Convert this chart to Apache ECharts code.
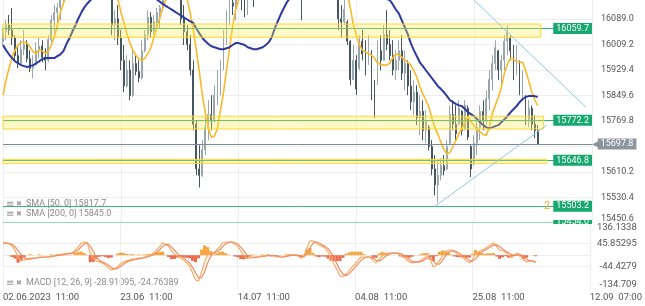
<!DOCTYPE html>
<html><head><meta charset="utf-8">
<script src="https://cdn.jsdelivr.net/npm/echarts@6/dist/echarts.min.js"></script>
<style>html,body{margin:0;padding:0;background:#fff}#c{width:645px;height:306px}</style>
</head><body><div id="c"></div>
<script>
// ---------- DATA ----------
const slotCount = 196; // time slots (3 h each), last ones empty (future space)
const tickSlots = [0, 39, 78, 117, 156, 195];
const tickTexts = ['02.06.2023  11:00', '23.06  11:00', '14.07  11:00', '04.08  11:00', '25.08  11:00', '12.09  07:00'];

// candles: [open, close, low, high]
const candles = [
[16020,16050,16008,16061],[16050,16070,16023,16086],[16070,16055,16039,16102],[16055,16030,16008,16124],[16030,15975,15960,16039],
[15975,15950,15935,16008],[15950,15995,15945,16023],[15995,16010,15976,16055],[16010,15965,15954,16023],[15965,15935,15923,15992],
[15935,15945,15904,15976],[15945,15990,15945,16017],[15990,16005,15967,16030],[16005,15970,15954,16023],[15970,15960,15929,15998],
[15960,16025,15955,16039],[16025,16085,16017,16102],[16085,16110,16039,16133],[16110,16125,16055,16139],[16125,16150,16086,16165],
[16150,16180,16140,16195],[16180,16210,16170,16225],[16210,16200,16185,16235],[16200,16240,16195,16260],[16240,16265,16230,16285],
[16265,16250,16235,16290],[16250,16280,16245,16300],[16280,16300,16270,16320],[16300,16275,16260,16315],[16275,16290,16265,16310],
[16290,16260,16245,16300],[16260,16240,16225,16275],[16240,16255,16230,16270],[16255,16225,16210,16265],[16225,16195,16180,16240],
[16195,16160,16150,16205],[16160,16070,16039,16170],[16070,16090,16023,16117],[16090,16030,16008,16133],[16030,15960,15929,16055],
[15960,15880,15860,16008],[15880,15930,15875,15976],[15930,15850,15835,15960],[15850,15950,15845,15992],[15950,15925,15913,15976],
[15925,15905,15892,15960],[15905,15990,15900,16023],[15990,16040,15985,16055],[16040,16095,16023,16117],[16095,16050,16030,16111],
[16050,16080,16039,16102],[16080,16110,16055,16124],[16110,16125,16061,16133],[16125,16165,16115,16180],[16165,16190,16155,16210],
[16190,16215,16180,16235],[16215,16200,16185,16240],[16200,16185,16170,16220],[16185,16160,16150,16200],[16160,16090,16070,16170],
[16090,16050,16008,16133],[16050,16010,15992,16070],[16010,15930,15913,16039],[15930,15760,15741,15960],[15760,15620,15600,15772],
[15620,15600,15562,15694],[15600,15680,15595,15710],[15680,15750,15663,15788],[15750,15790,15710,15835],[15790,15770,15741,15851],
[15770,15850,15765,15882],[15850,15880,15819,15929],[15880,15940,15851,15960],[15940,16030,15929,16055],[16030,16090,16008,16117],
[16090,16140,16070,16160],[16140,16130,16102,16170],[16130,16150,16086,16175],[16150,16185,16140,16200],[16185,16160,16117,16200],
[16160,16150,16095,16180],[16150,16175,16102,16190],[16175,16195,16165,16215],[16195,16165,16127,16205],[16165,16200,16155,16215],
[16200,16230,16190,16245],[16230,16250,16220,16270],[16250,16240,16225,16265],[16240,16270,16235,16290],[16270,16290,16260,16310],
[16290,16310,16280,16330],[16310,16295,16280,16325],[16295,16320,16290,16340],[16320,16300,16285,16335],[16300,16280,16265,16310],
[16280,16300,16270,16315],[16300,16270,16255,16310],[16270,16250,16235,16280],[16250,16230,16210,16260],[16230,16210,16086,16240],
[16210,16240,16200,16255],[16240,16260,16230,16275],[16260,16245,16230,16270],[16245,16270,16240,16285],[16270,16290,16260,16300],
[16290,16275,16260,16300],[16275,16250,16240,16285],[16250,16230,16215,16260],[16230,16210,16195,16240],[16210,16190,16175,16220],
[16190,16160,16150,16200],[16160,16090,16055,16170],[16090,16080,16033,16133],[16080,16120,16070,16150],[16080,16020,16008,16086],
[16020,15900,15882,16023],[15900,15960,15898,16008],[15960,15870,15851,15976],[15935,16020,15929,16039],[16020,15980,15960,16055],
[15980,15930,15913,16023],[15950,16010,15945,16039],[15990,15860,15835,15992],[15860,15800,15779,15898],[15890,15990,15882,16023],
[15990,15960,15929,16039],[15960,16040,15960,16070],[16040,16010,15992,16117],[16010,15975,15960,16055],[15975,15930,15913,16023],
[15930,15960,15898,15992],[15960,15990,15929,16023],[15990,15920,15898,16039],[15920,15950,15866,15992],[15950,15880,15851,15960],
[15880,15830,15804,15929],[15830,15860,15788,15898],[15860,15780,15757,15882],[15780,15800,15725,15851],[15800,15740,15710,15835],
[15740,15770,15700,15804],[15750,15690,15678,15757],[15690,15620,15600,15710],[15620,15570,15537,15663],[15570,15600,15515,15647],
[15600,15630,15584,15653],[15630,15615,15600,15663],[15620,15690,15616,15710],[15700,15790,15694,15819],[15790,15760,15741,15835],
[15760,15730,15710,15819],[15760,15810,15757,15835],[15800,15740,15725,15804],[15745,15820,15741,15835],[15810,15720,15710,15819],
[15690,15620,15594,15694],[15640,15700,15631,15725],[15700,15750,15663,15772],[15750,15800,15710,15819],[15800,15770,15741,15835],
[15770,15840,15757,15866],[15840,15900,15804,15929],[15900,15950,15866,15976],[15950,16000,15929,16023],[15990,15930,15898,15992],
[15930,15960,15882,15976],[15960,16020,15929,16039],[16020,16050,15976,16070],[16030,15990,15960,16039],[15990,15920,15898,16008],
[15920,15980,15913,16008],[15955,15870,15851,15960],[15870,15900,15835,15929],[15845,15775,15757,15851],[15775,15810,15750,15835],
[15810,15760,15741,15819],[15760,15740,15716,15788],[15740,15697.8,15697.8,15757]
];

const sma50 = [
15851,15898,15935,15970,15992,16008,16017,16017,16014,16001,
15986,15982,15992,15989,15982,15989,16008,16033,16070,16111,
16139,16165,16185,16205,16222,16238,16250,16258,16262,16262,
16260,16258,16254,16248,16240,16228,16210,16185,16152,16111,
16080,16045,16014,15992,15976,15964,15960,15967,15982,16001,
16033,16064,16095,16127,16152,16172,16185,16190,16188,16180,
16168,16150,16108,16055,15992,15923,15851,15794,15747,15719,
15722,15747,15804,15860,15929,15998,16064,16117,16149,16170,
16190,16205,16218,16228,16236,16242,16248,16252,16256,16260,
16263,16266,16268,16270,16271,16272,16272,16270,16268,16266,
16262,16258,16256,16254,16252,16250,16245,16240,16235,16230,
16225,16220,16210,16192,16168,16124,16070,16039,16008,15992,
15986,15982,15976,15967,15951,15948,15945,15945,15951,15967,
15979,15979,15970,15960,15954,15945,15929,15907,15879,15854,
15835,15813,15779,15750,15728,15703,15681,15666,15672,15691,
15710,15732,15747,15769,15782,15766,15754,15741,15735,15728,
15725,15750,15794,15819,15845,15876,15920,15948,15967,15964,
15957,15954,15954,15929,15898,15863,15838,15817.7
];

const sma200 = [
16008,15992,15979,15967,15957,15951,15945,15942,15939,15942,
15945,15951,15957,15964,15967,15967,15967,15967,15973,15979,
15989,16011,16029,16051,16070,16092,16111,16127,16139,16149,
16158,16165,16172,16178,16183,16187,16190,16192,16193,16193,
16192,16190,16188,16186,16184,16182,16180,16178,16175,16168,
16160,16150,16143,16136,16130,16124,16118,16112,16106,16100,
16094,16088,16082,16077,16060,16045,16030,16020,16011,16004,
16001,15998,15995,15995,15998,16001,16008,16014,16014,16011,
16008,16001,15998,15995,15995,15998,16001,16008,16017,16033,
16061,16083,16105,16124,16142,16155,16165,16175,16185,16193,
16200,16206,16211,16215,16218,16220,16221,16221,16220,16218,
16215,16212,16208,16204,16200,16196,16192,16188,16184,16180,
16176,16172,16168,16164,16160,16157,16154,16152,16149,16136,
16120,16108,16086,16064,16042,16014,15992,15973,15954,15942,
15929,15917,15904,15892,15879,15870,15860,15848,15835,15829,
15823,15819,15816,15807,15797,15791,15785,15775,15766,15757,
15750,15747,15750,15754,15757,15766,15775,15785,15797,15807,
15816,15829,15838,15845,15848,15848,15848,15845.0
];

const macdLine = [
47,47,45,35,20,-11,-19,-19,-15,-11,
-11,-11,-7,-7,-7,-7,-3,-3,1,1,
5,5,8,8,20,32,47,51,47,8,
-11,-22,-26,-30,-38,-50,-57,-53,-46,-34,
-26,-22,-19,-15,-15,-11,-11,-7,-3,1,
8,20,32,47,43,35,16,5,-3,-11,
-19,-30,-42,-69,-96,-100,-65,-26,1,12,
8,20,32,47,51,51,51,43,35,16,
1,-11,-11,-7,-7,-7,-3,-3,1,-3,
-3,-7,-7,-7,-3,1,1,1,-3,-11,
-3,28,55,55,47,39,35,28,12,-11,
-34,-57,-80,-84,-73,-61,-46,-34,-19,-7,
-7,-7,-7,-22,-30,-15,-3,5,8,8,
8,8,1,-7,-15,-26,-30,-26,-26,-19,
-11,-3,-19,-46,-38,-22,-3,12,20,20,
12,5,-3,-11,-22,-30,-19,5,12,20,
24,32,39,47,35,20,16,12,1,-7,
1,8,-3,-19,-26,-22,-22,-28.91095
];

const signalLine = [
47,47,46,42,33,18,3,-10,-16,-15,
-12,-11,-10,-8,-7,-7,-6,-4,-2,0,
2,4,6,7,12,20,33,43,48,35,
15,-8,-20,-26,-31,-39,-48,-53,-52,-44,
-35,-27,-22,-19,-16,-14,-12,-10,-7,-3,
2,10,20,33,41,42,31,19,6,-3,
-11,-20,-30,-47,-69,-88,-87,-64,-30,-4,
7,13,20,33,43,49,51,48,43,31,
17,2,-7,-10,-8,-7,-6,-4,-2,-2,
-2,-4,-6,-7,-6,-3,-1,1,0,-4,
-6,5,27,46,52,47,40,34,25,10,
-11,-34,-57,-74,-79,-72,-60,-47,-33,-20,
-11,-7,-7,-12,-20,-22,-16,-5,3,7,
8,8,6,1,-7,-16,-24,-27,-27,-24,
-19,-11,-11,-23,-34,-35,-21,-4,10,17,
17,12,5,-3,-12,-21,-24,-15,-1,12,
19,25,32,39,40,34,24,16,10,2,
-2,1,2,-5,-16,-22,-23,-24.76389
];

const macdHist = [
0,0,-1,-7,-13,-29,-22,-9,1,4,
1,0,3,1,0,0,3,1,3,1,
3,1,2,1,8,12,14,8,-1,-27,
-26,-14,-6,-4,-7,-11,-9,0,6,10,
9,5,3,4,1,3,1,3,4,4,
6,10,12,14,2,-7,-15,-14,-9,-8,
-8,-10,-12,-22,-27,-12,22,38,31,16,
1,7,12,14,8,2,0,-5,-8,-15,
-16,-13,-4,3,1,0,3,1,3,-1,
-1,-3,-1,0,3,4,2,0,-3,-7,
3,23,28,9,-5,-8,-5,-6,-13,-21,
-23,-23,-23,-10,6,11,14,13,14,13,
4,0,0,-10,-10,7,13,10,5,1,
0,0,-5,-8,-8,-10,-6,1,1,5,
8,8,-8,-23,-4,13,18,16,10,3,
-5,-7,-8,-8,-10,-9,5,20,13,8,
5,7,7,8,-5,-14,-8,-4,-9,-9,
3,7,-5,-14,-10,0,1,-4.15
];

const priceTicks = [15450.6, 15530.4, 15610.2, 15690.0, 15769.8, 15849.6, 15929.4, 16009.2, 16089.0];
const priceLabelTicks = [15450.6, 15530.4, 15610.2, 15769.8, 15849.6, 15929.4, 16009.2, 16089.0];
const macdTicks = [-134.709, -44.4279, 45.85295, 136.1338];
const macdTickTexts = ['-134.709', '-44.4279', '45.85295', '136.1338'];

const lastPrice = 15697.8;
const supportLevels = [16059.7, 15772.2, 15646.8];
const lowerLevels = [15503.2, 15454.0];
// zones: [top, bottom, end slot]
const zones = [[16073.8, 16032.2, 178], [15785.0, 15745.0, 179], [15650.0, 15637.0, 180]];
// trend lines: [[slot, price], [slot, price]]
const trendLines = [[[156, 16148], [193, 15813]], [[143, 15503], [180, 15757]]];

// ---------- CHART ----------
const FONT = 'Roboto, "Liberation Sans", Arial, sans-serif';
const categories = Array.from({length: slotCount}, (_, i) => String(i));
const tickMap = {}; tickSlots.forEach((s, k) => tickMap[s] = tickTexts[k]);
const isTick = (i) => tickMap[i] !== undefined;
const noBorder = {textBorderWidth: 0, textBorderColor: 'transparent', textShadowBlur: 0};

function greenLabel(text) {
  return Object.assign({show: true, position: 'insideEnd', distance: 0, formatter: text,
    backgroundColor: '#16a86e', color: '#fff', fontSize: 9, fontFamily: FONT,
    padding: [1, 3, 1, 3], lineHeight: 9}, noBorder);
}

const levelLines = [];
supportLevels.forEach(v => levelLines.push({yAxis: v, lineStyle: {color: '#35ad76', width: 1, type: 'solid'}, label: greenLabel(v.toFixed(1))}));
levelLines.push({yAxis: lowerLevels[0], lineStyle: {color: '#3bb784', width: 1, type: 'solid'},
  label: Object.assign({show: true, position: 'insideEnd', distance: 0, formatter: '{n|2}{b|' + lowerLevels[0].toFixed(1) + '}',
    rich: {n: {color: '#f5a623', fontSize: 11, fontFamily: FONT, padding: [0, 3, 0, 0]},
           b: {backgroundColor: '#16a86e', color: '#fff', fontSize: 9, fontFamily: FONT, padding: [1, 3, 1, 3], lineHeight: 9}}}, noBorder)});
levelLines.push({yAxis: lowerLevels[1], lineStyle: {color: '#92d9bc', width: 1, type: 'solid'},
  label: Object.assign({show: true, position: 'insideEnd', distance: 0, formatter: '{c|' + lowerLevels[1].toFixed(1) + '}',
    rich: {c: {backgroundColor: '#16a86e', color: '#fff', fontSize: 9, fontFamily: FONT, padding: [0, 3, 0, 3], height: 4, lineHeight: 4,
      textBorderWidth: 0}}}, noBorder)});
levelLines.push({yAxis: lastPrice, lineStyle: {color: '#7b8a91', width: 1, type: 'solid'},
  label: Object.assign({show: true, position: 'end', distance: 0, formatter: '{a|◀}{b|' + lastPrice.toFixed(1) + '}',
    rich: {a: {color: '#8a969b', fontSize: 10, fontFamily: 'DejaVu Sans', padding: [0, -2, 0, 0]},
           b: {backgroundColor: '#8a969b', color: '#fff', fontSize: 9, fontFamily: FONT, padding: [1, 3, 1, 3], lineHeight: 9}}}, noBorder)});

const zoneAreas = zones.map(z => [{xAxis: 0, yAxis: z[0]}, {xAxis: z[2], yAxis: z[1]}]);
const trendData = trendLines.map(t => [{coord: t[0]}, {coord: t[1]}]);

function legendItems(y, text) {
  return [
    {type: 'text', x: 6, y: y, style: {text: '≡', fill: '#9a9a9a', fontSize: 10, fontFamily: 'DejaVu Sans', verticalAlign: 'middle'}},
    {type: 'text', x: 16, y: y, style: {text: '✖', fill: '#9a9a9a', fontSize: 7, fontFamily: 'DejaVu Sans', verticalAlign: 'middle'}},
    {type: 'text', x: 26, y: y, style: {text: text, fill: '#8c8c8c', fontSize: 9, fontFamily: FONT, verticalAlign: 'middle'}}
  ];
}

const chart = echarts.init(document.getElementById('c'), null, {renderer: 'canvas'});
chart.setOption({
  animation: false,
  backgroundColor: '#fff',
  grid: [
    {left: 3, right: 53, top: 0, height: 223},
    {left: 3, right: 53, top: 220, height: 70}
  ],
  xAxis: [
    {type: 'category', gridIndex: 0, data: categories, boundaryGap: false,
      axisLine: {show: false}, axisTick: {show: false}, axisLabel: {show: false},
      splitLine: {show: true, interval: isTick, lineStyle: {color: '#eeeeee', width: 1}}},
    {type: 'category', gridIndex: 1, data: categories, boundaryGap: false,
      axisLine: {show: true, lineStyle: {color: '#eeeeee'}}, axisTick: {show: false},
      axisLabel: {show: true, interval: isTick, formatter: (v, i) => tickMap[i] || '', align: 'left',
        color: '#555', fontSize: 9.5, fontFamily: FONT, margin: 3},
      splitLine: {show: true, interval: isTick, lineStyle: {color: '#eeeeee', width: 1}}}
  ],
  yAxis: [
    {type: 'value', gridIndex: 0, position: 'right', min: 15450.6, max: 16149,
      axisLine: {show: false}, axisTick: {show: false, customValues: priceTicks.slice(1)},
      axisLabel: {customValues: priceLabelTicks, margin: 9, color: '#555', fontSize: 9, fontFamily: FONT,
        formatter: v => Math.abs(v - 15450.6) < 0.01 ? '{lo|' + v.toFixed(1) + '}' : v.toFixed(1),
        rich: {lo: {color: '#555', fontSize: 9, fontFamily: FONT, padding: [0, 0, 8, 0]}}},
      splitLine: {show: true, lineStyle: {color: '#eeeeee', width: 1}}},
    {type: 'value', gridIndex: 1, position: 'right', min: -134.709, max: 136.1338,
      axisLine: {show: false}, axisTick: {show: false, customValues: [-44.4279, 45.85295]},
      axisLabel: {customValues: macdTicks, margin: 47, align: 'right', color: '#555', fontSize: 9.5, fontFamily: FONT,
        formatter: v => {
          let k = 0; macdTicks.forEach((t, j) => { if (Math.abs(t - v) < Math.abs(macdTicks[k] - v)) k = j; });
          if (k === 3) return '{t|' + macdTickTexts[k] + '}';
          if (k === 0) return '{b|' + macdTickTexts[k] + '}';
          return macdTickTexts[k];
        },
        rich: {t: {color: '#555', fontSize: 9.5, fontFamily: FONT, padding: [16, 0, 0, 0]},
               b: {color: '#555', fontSize: 9.5, fontFamily: FONT, padding: [0, 0, 10, 0]}}},
      splitLine: {show: true, lineStyle: {color: '#eeeeee', width: 1}}}
  ],
  graphic: [].concat(
    legendItems(204, 'SMA [50, 0] ' + sma50[sma50.length - 1].toFixed(1)),
    legendItems(214, 'SMA [200, 0] ' + sma200[sma200.length - 1].toFixed(1)),
    legendItems(283, 'MACD [12, 26, 9] ' + macdLine[macdLine.length - 1] + ', ' + signalLine[signalLine.length - 1])
  ),
  series: [
    {type: 'candlestick', xAxisIndex: 0, yAxisIndex: 0, data: candles, barWidth: 1.4, clip: true, z: 2,
      itemStyle: {color: '#98a6ad', color0: '#465660', borderColor: '#98a6ad', borderColor0: '#465660', borderWidth: 1}},
    {type: 'line', xAxisIndex: 0, yAxisIndex: 0, data: sma50, symbol: 'none', clip: true, z: 3,
      lineStyle: {color: '#fbb829', width: 1.6}},
    {type: 'line', xAxisIndex: 0, yAxisIndex: 0, data: sma200, symbol: 'none', clip: true, z: 3,
      lineStyle: {color: '#2c3a9f', width: 2}},
    {type: 'line', xAxisIndex: 0, yAxisIndex: 0, data: [], symbol: 'none',
      markLine: {silent: true, symbol: 'none', animation: false, z: 5, data: levelLines},
      markArea: {silent: true, z: 8, itemStyle: {color: 'rgba(255,236,80,0.32)', borderColor: '#fdd835', borderWidth: 1}, data: zoneAreas}},
    {type: 'line', xAxisIndex: 0, yAxisIndex: 0, data: [], symbol: 'none',
      markLine: {silent: true, symbol: 'none', animation: false, z: 9, label: {show: false},
        lineStyle: {color: '#86caec', width: 1, type: 'solid'}, data: trendData}},
    {type: 'bar', xAxisIndex: 1, yAxisIndex: 1, barWidth: 3,
      data: macdHist.map(v => ({value: v, itemStyle: {color: v >= 0 ? '#f8a33a' : '#ea6c4b'}}))},
    {type: 'line', xAxisIndex: 1, yAxisIndex: 1, data: macdLine, symbol: 'none', z: 4,
      lineStyle: {color: '#f7ab64', width: 1.2}},
    {type: 'line', xAxisIndex: 1, yAxisIndex: 1, data: signalLine, symbol: 'none', z: 4,
      lineStyle: {color: '#f08c5e', width: 1.2}}
  ]
});
</script></body></html>
